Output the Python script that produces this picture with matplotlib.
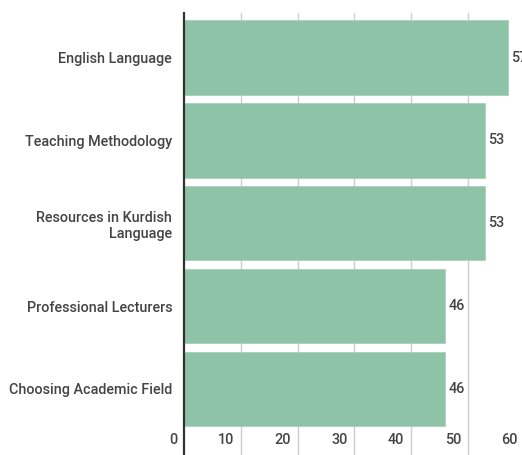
import matplotlib.pyplot as plt

categories = ['English Language', 'Teaching Methodology', 'Resources in Kurdish\nLanguage',
              'Professional Lecturers', 'Choosing Academic Field']
values = [57, 53, 53, 46, 46]
xticks = [0, 10, 20, 30, 40, 50, 60]

plt.rcParams['font.family'] = ['Roboto', 'DejaVu Sans']
text_color = '#444444'
fsize = 10.4

fig = plt.figure(figsize=(5.22, 4.55), dpi=100)
# axes runs past the right edge, like the original where the 60 line is cut off
ax = fig.add_axes([184 / 522, 0, 341 / 522, 442 / 455])

pos = range(len(categories))
ax.barh(pos, values, height=0.9, color='#8fc3a7', edgecolor='#a6d1b9', linewidth=0.6, zorder=2)
ax.set_xlim(0, 60)
ax.set_ylim(4.8, -0.54)

# vertical grid
for t in xticks[1:]:
    ax.axvline(t, color='#cccccc', linewidth=1, zorder=1)

for s in ['top', 'right', 'bottom']:
    ax.spines[s].set_visible(False)
ax.spines['left'].set_color('#333333')
ax.spines['left'].set_linewidth(1.6)
ax.spines['left'].set_zorder(3)

ax.set_xticks([])
ax.set_yticks(list(pos))
ax.set_yticklabels(categories, fontsize=fsize, color=text_color, fontweight='medium')
ax.tick_params(axis='y', length=0, pad=8.5)
for lab in ax.get_yticklabels():
    lab.set_horizontalalignment('right')
    lab.set_multialignment('right')

# x tick labels sit inside, just left of each gridline
for t in xticks:
    ax.annotate(str(t), xy=(t, 15 / 442), xycoords=ax.get_xaxis_transform(),
                xytext=(-5, 0), textcoords='offset points',
                ha='right', va='center', fontsize=fsize, color=text_color, fontweight='medium')

# value labels
for i, v in enumerate(values):
    ax.annotate(str(v), xy=(v, i), xytext=(2, 0), textcoords='offset points',
                ha='left', va='center', fontsize=fsize, color=text_color, fontweight='medium')

fig.savefig('out.png', dpi=100)
